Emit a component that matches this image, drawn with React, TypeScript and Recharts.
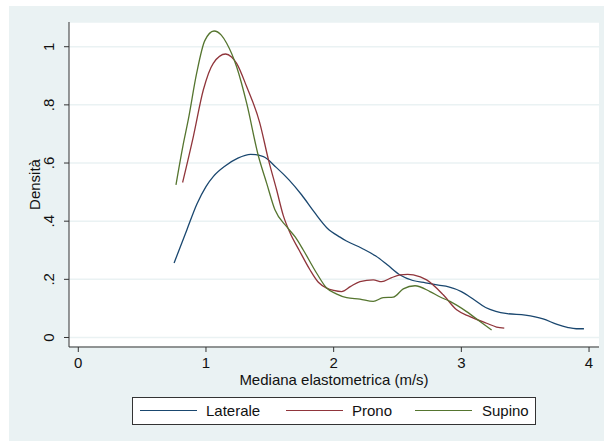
import React from 'react';
import { LineChart, Line, XAxis, YAxis, CartesianGrid, Legend } from 'recharts';

// kernel density estimates, x in m/s
const lateraleX = [0.75, 0.85, 0.93, 1.0, 1.06, 1.15, 1.25, 1.35, 1.45, 1.55, 1.65, 1.75, 1.85, 1.95, 2.05, 2.1, 2.22, 2.33, 2.42, 2.52, 2.62, 2.72, 2.82, 2.9, 3.0, 3.1, 3.19, 3.27, 3.36, 3.5, 3.64, 3.75, 3.83, 3.9, 3.96];
const lateraleY = [0.256, 0.37, 0.46, 0.519, 0.555, 0.59, 0.617, 0.63, 0.622, 0.585, 0.542, 0.49, 0.43, 0.376, 0.345, 0.332, 0.307, 0.28, 0.25, 0.215, 0.196, 0.188, 0.18, 0.174, 0.158, 0.13, 0.103, 0.09, 0.082, 0.077, 0.064, 0.045, 0.035, 0.03, 0.03];

const pronoX = [0.817, 0.901, 0.979, 1.057, 1.154, 1.2, 1.24, 1.319, 1.42, 1.49, 1.553, 1.605, 1.658, 1.73, 1.814, 1.88, 1.945, 2.0, 2.063, 2.13, 2.206, 2.31, 2.376, 2.45, 2.519, 2.58, 2.624, 2.728, 2.858, 2.963, 3.067, 3.198, 3.276, 3.336];
const pronoY = [0.533, 0.691, 0.851, 0.943, 0.975, 0.965, 0.943, 0.862, 0.74, 0.61, 0.508, 0.42, 0.36, 0.3, 0.233, 0.19, 0.17, 0.162, 0.158, 0.175, 0.192, 0.198, 0.192, 0.205, 0.215, 0.217, 0.215, 0.198, 0.147, 0.095, 0.072, 0.049, 0.036, 0.032];

const supinoX = [0.765, 0.82, 0.861, 0.927, 0.99, 1.063, 1.12, 1.162, 1.24, 1.319, 1.41, 1.475, 1.54, 1.632, 1.7, 1.762, 1.867, 1.945, 2.02, 2.102, 2.206, 2.31, 2.388, 2.467, 2.545, 2.637, 2.754, 2.83, 2.911, 3.041, 3.146, 3.237];
const supinoY = [0.525, 0.66, 0.748, 0.909, 1.02, 1.054, 1.04, 1.012, 0.931, 0.805, 0.625, 0.531, 0.439, 0.381, 0.345, 0.301, 0.221, 0.17, 0.15, 0.137, 0.132, 0.124, 0.137, 0.139, 0.167, 0.178, 0.158, 0.14, 0.124, 0.089, 0.055, 0.026];

const xTicks = [0, 1, 2, 3, 4];
const yTicks = [0, 0.2, 0.4, 0.6, 0.8, 1];
const yTickLabels = ['0', '.2', '.4', '.6', '.8', '1'];

const zip = (xs: number[], ys: number[]) => xs.map((x, i) => ({ x, y: ys[i] }));

const series = [
  { name: 'Laterale', color: '#1A476F', data: zip(lateraleX, lateraleY) },
  { name: 'Prono', color: '#90353B', data: zip(pronoX, pronoY) },
  { name: 'Supino', color: '#55752F', data: zip(supinoX, supinoY) },
];

const FONT = '"Liberation Sans", Arial, sans-serif';
const PANEL = '#EAF2F3';

const XTick = (props: any) => {
  const { x, y, payload } = props;
  return (
    <text x={x} y={y + 13.5} textAnchor="middle" fontSize={15} fontFamily={FONT} fill="#111">
      {payload.value}
    </text>
  );
};

const YTick = (props: any) => {
  const { x, y, payload } = props;
  const bx = x - 7.5;
  const idx = yTicks.indexOf(payload.value);
  return (
    <text x={bx} y={y} transform={`rotate(-90 ${bx} ${y})`} textAnchor="middle" fontSize={15} fontFamily={FONT} fill="#111">
      {idx >= 0 ? yTickLabels[idx] : payload.value}
    </text>
  );
};

const LegendBox = () => {
  const items = [
    { lineX: 7, textX: 73 },
    { lineX: 153, textX: 219 },
    { lineX: 282, textX: 349 },
  ];
  return (
    <div
      style={{
        position: 'relative',
        width: 404,
        height: 28,
        boxSizing: 'border-box',
        border: '1px solid #333',
        background: '#fff',
        fontFamily: FONT,
        fontSize: 15,
        color: '#111',
      }}
    >
      {series.map((s, i) => (
        <React.Fragment key={s.name}>
          <div
            style={{
              position: 'absolute',
              left: items[i].lineX,
              top: 12,
              width: 57,
              height: 1.3,
              background: s.color,
            }}
          />
          <div style={{ position: 'absolute', left: items[i].textX, top: 4, lineHeight: '17px' }}>{s.name}</div>
        </React.Fragment>
      ))}
    </div>
  );
};

export default function App() {
  return (
    <div style={{ position: 'fixed', left: 0, top: 0, width: 604, height: 442, background: '#fff' }}>
      <div style={{ position: 'absolute', left: 9, top: 6, width: 595, height: 435, background: PANEL }} />
      <div style={{ position: 'absolute', left: 0, top: 0 }}>
        <LineChart width={604} height={442} margin={{ top: 22, right: 5, bottom: 0, left: 0 }}>
          <CartesianGrid vertical={false} stroke={PANEL} strokeWidth={1.5} fill="#fff" />
          <XAxis
            dataKey="x"
            type="number"
            domain={[-0.0728, 4.078]}
            ticks={xTicks}
            interval={0}
            allowDataOverflow
            height={95}
            tickSize={5}
            tickMargin={2}
            stroke="#333"
            tick={<XTick />}
            label={{
              content: (p: any) => {
                const vb = p.viewBox;
                return (
                  <text x={vb.x + vb.width / 2} y={vb.y + 37.5} textAnchor="middle" fontSize={15} fontFamily={FONT} fill="#111">
                    Mediana elastometrica (m/s)
                  </text>
                );
              },
            }}
          />
          <YAxis
            type="number"
            domain={[-0.0327, 1.085]}
            ticks={yTicks}
            interval={0}
            allowDataOverflow
            width={69}
            tickSize={5}
            tickMargin={2}
            stroke="#333"
            tick={<YTick />}
            label={{
              content: (p: any) => {
                const vb = p.viewBox;
                const cy = vb.y + vb.height / 2;
                return (
                  <text x={39.5} y={cy} transform={`rotate(-90 39.5 ${cy})`} textAnchor="middle" fontSize={15} fontFamily={FONT} fill="#111">
                    Densità
                  </text>
                );
              },
            }}
          />
          {series.map((s) => (
            <Line
              key={s.name}
              data={s.data}
              dataKey="y"
              name={s.name}
              type="monotone"
              stroke={s.color}
              strokeWidth={1.3}
              dot={false}
              activeDot={false}
              isAnimationActive={false}
            />
          ))}
          <Legend
            layout="vertical"
            verticalAlign="middle"
            align="center"
            content={<LegendBox />}
            wrapperStyle={{ left: 132, top: 397, width: 404, height: 28 }}
          />
        </LineChart>
      </div>
    </div>
  );
}
